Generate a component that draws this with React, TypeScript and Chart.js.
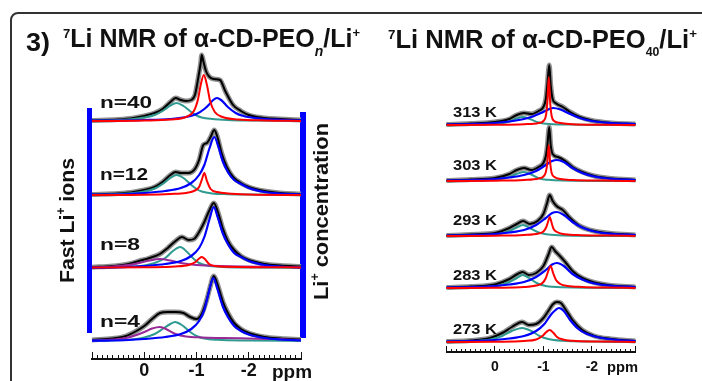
import { useEffect, useRef } from 'react';
import { Chart, registerables } from 'chart.js';

Chart.register(...registerables);

type Pt = [number, number];

// ---------------- axis / labels ----------------
const leftTickLabels = [0, -1, -2];
const rightTickLabels = [0, -1, -2];
const leftPpmRange: [number, number] = [1, -3];
const rightPpmRange: [number, number] = [1, -2.9];
const leftLabels = ['n=40', 'n=12', 'n=8', 'n=4'];
const rightLabels = ['313 K', '303 K', '293 K', '283 K', '273 K'];

// ---------------- left panel: α-CD-PEOn/Li+ (ppm, intensity) ----------------
const n40Black: Pt[] = [[1, 0.5], [0.5, 1.5], [0.2, 3], [0, 5], [-0.2, 8], [-0.35, 12], [-0.5, 19], [-0.6, 23], [-0.7, 21], [-0.8, 20], [-0.9, 21], [-0.97, 26], [-1.03, 42], [-1.08, 58], [-1.1, 66], [-1.13, 60], [-1.18, 50], [-1.25, 44], [-1.33, 42], [-1.45, 41], [-1.55, 30], [-1.7, 16], [-1.85, 10], [-2.0, 6], [-2.3, 3], [-2.6, 2], [-3, 1]];
const n40Teal: Pt[] = [[1, 0.3], [0.5, 1], [0.2, 2], [0, 3.5], [-0.2, 6], [-0.35, 10], [-0.5, 15.5], [-0.62, 18], [-0.75, 15], [-0.9, 9], [-1.0, 5.5], [-1.1, 3.5], [-1.3, 2], [-1.6, 1], [-2.0, 0.5], [-3, 0.2]];
const n40Red: Pt[] = [[1, 0], [0, 0.5], [-0.5, 1.5], [-0.8, 4], [-0.95, 10], [-1.03, 22], [-1.08, 36], [-1.14, 46], [-1.2, 36], [-1.26, 20], [-1.35, 9], [-1.5, 4], [-1.8, 1.5], [-2.3, 0.5], [-3, 0]];
const n40Blue: Pt[] = [[1, 0.3], [0, 1], [-0.5, 2], [-0.8, 4], [-1.0, 7], [-1.15, 12], [-1.25, 17], [-1.32, 21], [-1.39, 23], [-1.47, 21], [-1.6, 14], [-1.75, 8], [-1.9, 5], [-2.2, 2.5], [-2.6, 1.2], [-3, 0.6]];

const n12Black: Pt[] = [[1, 0.5], [0.5, 1.5], [0.2, 3], [0, 5], [-0.2, 8], [-0.35, 13], [-0.5, 20], [-0.6, 23], [-0.7, 22], [-0.85, 22], [-0.97, 26], [-1.05, 35], [-1.13, 50], [-1.2, 52], [-1.27, 58], [-1.34, 65], [-1.4, 58], [-1.48, 42], [-1.58, 28], [-1.7, 18], [-1.85, 12], [-2, 8], [-2.3, 4], [-2.6, 2], [-3, 1]];
const n12Teal: Pt[] = [[1, 0.3], [0.5, 1], [0.2, 2], [0, 3.5], [-0.2, 6.5], [-0.35, 11], [-0.5, 17], [-0.62, 20], [-0.75, 17], [-0.9, 10], [-1.0, 6], [-1.1, 3.5], [-1.3, 1.5], [-1.6, 0.8], [-2, 0.4], [-3, 0.2]];
const n12Red: Pt[] = [[1, 0], [0, 0.3], [-0.5, 1], [-0.8, 2], [-0.95, 4], [-1.05, 8], [-1.1, 15], [-1.15, 22], [-1.2, 14], [-1.27, 6], [-1.4, 3], [-1.6, 1.5], [-2, 0.5], [-3, 0]];
const n12Blue: Pt[] = [[1, 0.3], [0.3, 1], [0, 2], [-0.4, 4], [-0.7, 7], [-0.9, 12], [-1.05, 20], [-1.15, 30], [-1.25, 47], [-1.34, 58], [-1.42, 48], [-1.5, 34], [-1.6, 23], [-1.72, 15], [-1.85, 11], [-2.0, 7], [-2.3, 3], [-2.6, 1.5], [-3, 0.6]];

const n8Black: Pt[] = [[1, 0.8], [0.6, 2], [0.3, 4], [0.1, 7], [-0.1, 10], [-0.3, 14], [-0.45, 20], [-0.6, 27], [-0.72, 31], [-0.85, 28], [-0.95, 29], [-1.05, 36], [-1.15, 46], [-1.25, 58], [-1.33, 65], [-1.41, 56], [-1.5, 40], [-1.6, 27], [-1.72, 18], [-1.85, 12], [-2, 8], [-2.3, 4], [-2.6, 2.5], [-3, 1.5]];
const n8Teal: Pt[] = [[1, 0.2], [0.5, 0.8], [0.2, 1.5], [0, 2.5], [-0.2, 5], [-0.4, 10], [-0.55, 17], [-0.69, 21], [-0.82, 16], [-0.95, 9], [-1.05, 5], [-1.2, 2.5], [-1.5, 1], [-2, 0.4], [-3, 0.2]];
const n8Purple: Pt[] = [[1, 0.5], [0.6, 1.5], [0.3, 3], [0.1, 5], [-0.1, 7.5], [-0.3, 9], [-0.5, 7.5], [-0.7, 5], [-0.9, 3.5], [-1.2, 2.5], [-1.6, 1.8], [-2.2, 1.2], [-3, 0.8]];
const n8Red: Pt[] = [[1, 0.5], [0, 0.8], [-0.6, 1.5], [-0.85, 3], [-0.98, 6], [-1.05, 9.5], [-1.1, 11], [-1.16, 9], [-1.24, 4], [-1.35, 2], [-1.6, 1.2], [-2.2, 0.8], [-3, 0.6]];
const n8Blue: Pt[] = [[1, 0.3], [0.3, 1], [0, 2], [-0.4, 4], [-0.7, 7], [-0.9, 12], [-1.05, 20], [-1.15, 31], [-1.25, 49], [-1.33, 61], [-1.41, 50], [-1.5, 35], [-1.6, 24], [-1.72, 15], [-1.85, 11], [-2.0, 7], [-2.3, 3], [-2.6, 1.5], [-3, 0.6]];

const n4Black: Pt[] = [[1, 1], [0.6, 2.5], [0.35, 5], [0.15, 10], [0, 15], [-0.15, 22], [-0.3, 28], [-0.45, 29], [-0.6, 29], [-0.75, 28], [-0.88, 24], [-1.0, 22], [-1.1, 27], [-1.2, 42], [-1.27, 56], [-1.33, 65], [-1.4, 57], [-1.5, 40], [-1.6, 28], [-1.72, 18], [-1.85, 12], [-2, 8], [-2.3, 4], [-2.6, 2.5], [-3, 1.5]];
const n4Teal: Pt[] = [[1, 0.2], [0.5, 0.8], [0.2, 1.8], [0, 3.5], [-0.2, 7], [-0.38, 13], [-0.5, 17], [-0.59, 19], [-0.72, 16], [-0.88, 9], [-1.0, 5], [-1.15, 2.5], [-1.4, 1.2], [-2, 0.5], [-3, 0.2]];
const n4Purple: Pt[] = [[1, 0.5], [0.6, 1.5], [0.35, 3], [0.15, 6], [0, 9], [-0.15, 12.5], [-0.3, 14], [-0.45, 11], [-0.6, 7], [-0.8, 4.5], [-1.1, 3.5], [-1.5, 3], [-2.0, 2.5], [-2.5, 2], [-3, 1]];
const n4Blue: Pt[] = [[1, 0.3], [0.3, 1], [0, 2], [-0.4, 4], [-0.7, 7], [-0.9, 12], [-1.05, 20], [-1.15, 31], [-1.24, 50], [-1.32, 63], [-1.4, 52], [-1.5, 35], [-1.6, 24], [-1.72, 15], [-1.85, 10], [-2.0, 6.5], [-2.3, 3], [-2.6, 1.5], [-3, 0.6]];

// ---------------- right panel: α-CD-PEO40/Li+ vs temperature ----------------
const k313Black: Pt[] = [[1, 0.5], [0.5, 1.5], [0, 3], [-0.3, 6], [-0.45, 10], [-0.6, 12], [-0.75, 11], [-0.9, 14], [-1.0, 18], [-1.05, 26], [-1.08, 40], [-1.12, 60], [-1.15, 40], [-1.19, 26], [-1.25, 22], [-1.4, 18], [-1.55, 13], [-1.75, 8], [-2, 4.5], [-2.4, 2], [-2.9, 1]];
const k313Teal: Pt[] = [[1, 0], [0.2, 0.6], [-0.1, 1.5], [-0.3, 3.5], [-0.45, 6.5], [-0.58, 8], [-0.72, 6], [-0.9, 2.5], [-1.05, 1.2], [-1.5, 0.4], [-2.9, 0]];
const k313Red: Pt[] = [[1, 0], [0, 0.2], [-0.6, 0.8], [-0.9, 2], [-1.0, 4], [-1.05, 9], [-1.08, 22], [-1.11, 48], [-1.14, 22], [-1.17, 9], [-1.22, 4], [-1.35, 2], [-1.6, 0.8], [-2.2, 0.3], [-2.9, 0]];
const k313Blue: Pt[] = [[1, 0.5], [0.5, 1], [0, 2], [-0.3, 3.5], [-0.55, 5.5], [-0.75, 8], [-0.95, 12], [-1.1, 15.5], [-1.2, 17], [-1.35, 15.5], [-1.55, 11], [-1.75, 7], [-2.0, 4], [-2.4, 2], [-2.9, 1]];

const k303Black: Pt[] = [[1, 0.5], [0.5, 1.5], [0, 3], [-0.3, 7], [-0.45, 11], [-0.6, 13], [-0.75, 11], [-0.9, 14], [-1.0, 18], [-1.05, 25], [-1.08, 35], [-1.12, 54], [-1.15, 36], [-1.19, 27], [-1.3, 24], [-1.45, 20], [-1.6, 14], [-1.8, 9], [-2.05, 5], [-2.4, 2.5], [-2.9, 1]];
const k303Teal: Pt[] = [[1, 0], [0.2, 0.7], [-0.1, 1.8], [-0.3, 4], [-0.45, 7], [-0.6, 9], [-0.75, 6.5], [-0.92, 2.5], [-1.1, 1.2], [-1.4, 0.5], [-2.9, 0]];
const k303Red: Pt[] = [[1, 0], [0, 0.3], [-0.6, 1], [-0.9, 2.5], [-1.0, 4.5], [-1.05, 9], [-1.08, 18], [-1.11, 36], [-1.14, 18], [-1.17, 8], [-1.23, 4], [-1.35, 2], [-1.6, 1], [-2.2, 0.4], [-2.9, 0]];
const k303Blue: Pt[] = [[1, 0.5], [0.5, 1], [0, 2], [-0.3, 3.5], [-0.6, 6], [-0.85, 10], [-1.05, 16], [-1.18, 20], [-1.28, 21], [-1.42, 19], [-1.6, 13], [-1.8, 8], [-2.05, 4.5], [-2.4, 2.2], [-2.9, 1]];

const k293Black: Pt[] = [[1, 0.5], [0.5, 1.5], [0, 3], [-0.3, 8], [-0.45, 12], [-0.58, 15], [-0.72, 12], [-0.88, 15], [-1.0, 22], [-1.07, 32], [-1.13, 41], [-1.19, 35], [-1.27, 30], [-1.4, 26], [-1.55, 18], [-1.75, 10], [-2.0, 5.5], [-2.4, 2.5], [-2.9, 1]];
const k293Teal: Pt[] = [[1, 0], [0.2, 0.8], [-0.1, 2], [-0.3, 5], [-0.45, 8.5], [-0.58, 11], [-0.72, 8], [-0.9, 3.5], [-1.1, 1.5], [-1.4, 0.6], [-2.9, 0]];
const k293Red: Pt[] = [[1, 0], [0, 0.3], [-0.6, 1], [-0.9, 2.5], [-1.0, 4.5], [-1.06, 9], [-1.1, 15], [-1.13, 19], [-1.17, 13], [-1.21, 7], [-1.28, 4], [-1.4, 2], [-1.7, 1], [-2.3, 0.4], [-2.9, 0]];
const k293Blue: Pt[] = [[1, 0.5], [0.5, 1], [0, 2], [-0.3, 3.5], [-0.6, 6], [-0.85, 11], [-1.05, 18], [-1.18, 23], [-1.28, 24], [-1.42, 21], [-1.6, 14], [-1.8, 8.5], [-2.05, 4.5], [-2.4, 2.2], [-2.9, 1]];

const k283Black: Pt[] = [[1, 0.5], [0.5, 1.5], [0, 3.5], [-0.3, 9], [-0.45, 13.5], [-0.57, 16], [-0.7, 13], [-0.85, 15], [-1.0, 22], [-1.1, 33], [-1.17, 41], [-1.24, 37], [-1.32, 33], [-1.45, 26], [-1.6, 17], [-1.8, 10], [-2.05, 5.5], [-2.4, 2.5], [-2.9, 1]];
const k283Teal: Pt[] = [[1, 0], [0.2, 1], [-0.1, 2.5], [-0.3, 6], [-0.45, 10], [-0.57, 13], [-0.7, 10], [-0.88, 4.5], [-1.05, 2], [-1.4, 0.7], [-2.9, 0]];
const k283Red: Pt[] = [[1, 0], [0, 0.3], [-0.6, 1], [-0.85, 2.5], [-0.98, 5], [-1.05, 10], [-1.1, 17], [-1.15, 22], [-1.2, 15], [-1.26, 8], [-1.35, 4], [-1.5, 2], [-1.8, 1], [-2.3, 0.4], [-2.9, 0]];
const k283Blue: Pt[] = [[1, 0.5], [0.5, 1], [0, 2], [-0.3, 3.5], [-0.6, 6], [-0.85, 11], [-1.05, 18], [-1.18, 23.5], [-1.28, 25], [-1.42, 22], [-1.6, 14], [-1.8, 8.5], [-2.05, 4.5], [-2.4, 2.2], [-2.9, 1]];

const k273Black: Pt[] = [[1, 0.5], [0.5, 1.5], [0.1, 4], [-0.15, 9], [-0.35, 15], [-0.56, 20], [-0.7, 17], [-0.85, 18], [-1.0, 24], [-1.1, 31], [-1.2, 38], [-1.28, 40], [-1.36, 39], [-1.45, 33], [-1.6, 22], [-1.8, 12], [-2.05, 6], [-2.4, 3], [-2.9, 1]];
const k273Teal: Pt[] = [[1, 0.3], [0.4, 1], [0.1, 2.5], [-0.15, 6], [-0.35, 11], [-0.56, 14], [-0.75, 11], [-0.92, 6], [-1.1, 3], [-1.4, 1.2], [-2, 0.4], [-2.9, 0]];
const k273Red: Pt[] = [[1, 0], [0, 0.3], [-0.6, 1], [-0.85, 2.5], [-0.98, 6], [-1.06, 10], [-1.13, 12], [-1.2, 9.5], [-1.28, 5], [-1.4, 2.5], [-1.6, 1.2], [-2.1, 0.5], [-2.9, 0]];
const k273Blue: Pt[] = [[1, 0.5], [0.5, 1], [0, 2], [-0.3, 3.5], [-0.6, 6], [-0.85, 11], [-1.02, 18], [-1.15, 27], [-1.25, 32], [-1.32, 34], [-1.42, 31], [-1.55, 22], [-1.72, 13], [-1.9, 8], [-2.15, 4.5], [-2.5, 2.2], [-2.9, 1]];

type Spectrum = { black: Pt[]; teal: Pt[]; red?: Pt[]; blue: Pt[]; purple?: Pt[] };

const leftSpectra: Spectrum[] = [
  { black: n40Black, teal: n40Teal, red: n40Red, blue: n40Blue },
  { black: n12Black, teal: n12Teal, red: n12Red, blue: n12Blue },
  { black: n8Black, teal: n8Teal, purple: n8Purple, red: n8Red, blue: n8Blue },
  { black: n4Black, teal: n4Teal, purple: n4Purple, blue: n4Blue },
];
const rightSpectra: Spectrum[] = [
  { black: k313Black, teal: k313Teal, red: k313Red, blue: k313Blue },
  { black: k303Black, teal: k303Teal, red: k303Red, blue: k303Blue },
  { black: k293Black, teal: k293Teal, red: k293Red, blue: k293Blue },
  { black: k283Black, teal: k283Teal, red: k283Red, blue: k283Blue },
  { black: k273Black, teal: k273Teal, red: k273Red, blue: k273Blue },
];

// ---------------- layout (pixels) ----------------
const W = 702;
const H = 381;
const L_X = [92, 301];
const R_X = [446.5, 635.5];
const L_BASE = [121, 195, 268, 341];
const R_BASE = [125, 181, 236, 288, 342];
const L_AXIS_Y = 359;
const R_AXIS_Y = 352;
const FONT = "'Liberation Sans', Arial, Helvetica, sans-serif";

const COLORS = {
  black: '#000000',
  halo: '#8e8e8e',
  teal: '#2E9A90',
  purple: '#982A98',
  blue: '#0000FF',
  red: '#FF0000',
  frame: '#333333',
  bar: '#0000FF',
};

type Seg = { t: string; font: string; dy: number };

function drawRich(ctx: CanvasRenderingContext2D, segs: Seg[], x: number, y: number, width: number, angle = 0) {
  ctx.save();
  let total = 0;
  const ws = segs.map((s) => {
    ctx.font = s.font;
    const w = ctx.measureText(s.t).width;
    total += w;
    return w;
  });
  ctx.translate(x, y);
  ctx.rotate(angle);
  ctx.scale(width / total, 1);
  ctx.textBaseline = 'alphabetic';
  ctx.textAlign = 'left';
  ctx.fillStyle = '#111111';
  let cx = 0;
  segs.forEach((s, i) => {
    ctx.font = s.font;
    ctx.fillText(s.t, cx, s.dy);
    cx += ws[i];
  });
  ctx.restore();
}

const b = (px: number) => `bold ${px}px ${FONT}`;

const placementPlugin = {
  id: 'placement',
  afterLayout(chart: any) {
    const place = (id: string, l: number, r: number, t: number, bt: number) => {
      const s = chart.scales[id];
      if (!s) return;
      s.left = l;
      s.right = r;
      s.top = t;
      s.bottom = bt;
      s.width = r - l;
      s.height = bt - t;
      s.configure();
    };
    place('xL', L_X[0], L_X[1], L_AXIS_Y, H);
    place('xLM', L_X[0], L_X[1], L_AXIS_Y, H);
    place('xR', R_X[0], R_X[1], R_AXIS_Y, H);
    place('xRM', R_X[0], R_X[1], R_AXIS_Y, H);
    L_BASE.forEach((y, i) => place('yL' + i, 0, 0, y - 100, y));
    R_BASE.forEach((y, i) => place('yR' + i, 0, 0, y - 100, y));
  },
};

const decorPlugin = {
  id: 'decor',
  beforeDatasetsDraw(chart: any) {
    const ctx: CanvasRenderingContext2D = chart.ctx;
    ctx.save();
    // frame
    ctx.strokeStyle = COLORS.frame;
    ctx.lineWidth = 2;
    ctx.beginPath();
    ctx.moveTo(W, 13);
    ctx.lineTo(18, 13);
    ctx.arcTo(11, 13, 11, 20, 7);
    ctx.lineTo(11, H);
    ctx.stroke();
    // blue bars
    ctx.fillStyle = COLORS.bar;
    ctx.fillRect(87, 108, 5, 225);
    ctx.fillRect(300, 112, 6, 226);
    ctx.restore();
  },
  afterDraw(chart: any) {
    const ctx: CanvasRenderingContext2D = chart.ctx;
    // panel number
    drawRich(ctx, [{ t: '3)', font: b(26), dy: 0 }], 26, 51, 24);
    // left title
    drawRich(
      ctx,
      [
        { t: '7', font: b(13), dy: -9 },
        { t: 'Li NMR of \u03b1-CD-PEO', font: b(25), dy: 0 },
        { t: 'n', font: `italic bold 14px ${FONT}`, dy: 9 },
        { t: '/Li', font: b(25), dy: 0 },
        { t: '+', font: b(13), dy: -10 },
      ],
      63, 47, 297,
    );
    // right title
    drawRich(
      ctx,
      [
        { t: '7', font: b(13), dy: -9 },
        { t: 'Li NMR of \u03b1-CD-PEO', font: b(25), dy: 0 },
        { t: '40', font: b(12), dy: 7.5 },
        { t: '/Li', font: b(25), dy: 0 },
        { t: '+', font: b(13), dy: -10 },
      ],
      388, 48, 309,
    );
    // n labels
    const lBase = [108, 180, 250, 327];
    const lW = [52, 48, 40, 40];
    leftLabels.forEach((t, i) => drawRich(ctx, [{ t, font: b(17), dy: 0 }], 100, lBase[i], lW[i]));
    // K labels
    const rBase = [117, 170, 225, 280, 334];
    rightLabels.forEach((t, i) => drawRich(ctx, [{ t, font: b(14), dy: 0 }], 453, rBase[i], 44));
    // ppm
    drawRich(ctx, [{ t: 'ppm', font: b(18), dy: 0 }], 272, 377.5, 40);
    drawRich(ctx, [{ t: 'ppm', font: b(14), dy: 0 }], 607, 372, 31);
    // rotated texts
    drawRich(
      ctx,
      [
        { t: 'Fast Li', font: b(21), dy: 0 },
        { t: '+', font: b(12), dy: -9 },
        { t: ' ions', font: b(21), dy: 0 },
      ],
      74, 283, 125, -Math.PI / 2,
    );
    drawRich(
      ctx,
      [
        { t: 'Li', font: b(21), dy: 0 },
        { t: '+', font: b(12), dy: -9 },
        { t: ' concentration', font: b(21), dy: 0 },
      ],
      328, 300, 177, -Math.PI / 2,
    );
  },
};

function line(data: Pt[], color: string, width: number, xAxisID: string, yAxisID: string) {
  return {
    data: data.map(([x, y]) => ({ x, y })),
    borderColor: color,
    backgroundColor: color,
    borderWidth: width,
    pointRadius: 0,
    fill: false,
    cubicInterpolationMode: 'monotone',
    capBezierPoints: false,
    clip: false,
    xAxisID,
    yAxisID,
  };
}

function buildDatasets() {
  const bottomFirst: any[] = [];
  const add = (spectra: Spectrum[], xId: string, yPrefix: string) => {
    spectra.forEach((s, i) => {
      const yId = yPrefix + i;
      bottomFirst.push(line(s.black, COLORS.halo, 5, xId, yId));
      bottomFirst.push(line(s.black, COLORS.black, 2, xId, yId));
      bottomFirst.push(line(s.teal, COLORS.teal, 2, xId, yId));
      if (s.purple) bottomFirst.push(line(s.purple, COLORS.purple, 2, xId, yId));
      bottomFirst.push(line(s.blue, COLORS.blue, 2.2, xId, yId));
      if (s.red) bottomFirst.push(line(s.red, COLORS.red, 2, xId, yId));
    });
  };
  add(leftSpectra, 'xL', 'yL');
  add(rightSpectra, 'xR', 'yR');
  return bottomFirst.reverse();
}

function xScale(range: [number, number], step: number, tickLen: number, labels: number[] | null, fontSize: number, padding: number) {
  return {
    type: 'linear',
    position: 'bottom',
    display: true,
    min: range[1],
    max: range[0],
    reverse: true,
    grid: { display: true, drawOnChartArea: false, drawTicks: true, tickLength: -tickLen, tickColor: '#111', tickWidth: 1 },
    border: { display: true, color: '#111', width: 2 },
    ticks: {
      display: labels !== null,
      autoSkip: false,
      maxRotation: 0,
      minRotation: 0,
      stepSize: step,
      padding,
      color: '#111',
      font: { family: FONT, size: fontSize, weight: 'bold' },
      callback: (v: number) => (labels && labels.includes(v) ? String(v) : ''),
    },
  };
}

export default function App() {
  const ref = useRef<HTMLCanvasElement>(null);
  useEffect(() => {
    if (!ref.current) return;
    const scales: any = {
      xL: xScale(leftPpmRange, 0.1, 4, null, 18, 0),
      xLM: xScale(leftPpmRange, 1, 7, leftTickLabels, 18, 8.7),
      xR: xScale(rightPpmRange, 0.1, 3, null, 14, 0),
      xRM: xScale(rightPpmRange, 1, 6, rightTickLabels, 14, 12.3),
    };
    L_BASE.forEach((_, i) => (scales['yL' + i] = { type: 'linear', display: false, min: 0, max: 100 }));
    R_BASE.forEach((_, i) => (scales['yR' + i] = { type: 'linear', display: false, min: 0, max: 100 }));
    const chart = new Chart(ref.current, {
      type: 'line',
      data: { datasets: buildDatasets() },
      options: {
        responsive: false,
        animation: false,
        events: [],
        parsing: true,
        plugins: { legend: { display: false }, tooltip: { enabled: false } },
        scales,
      } as any,
      plugins: [placementPlugin, decorPlugin],
    } as any);
    return () => chart.destroy();
  }, []);
  return (
    <div style={{ position: 'fixed', left: 0, top: 0, width: W, height: H, background: '#fff' }}>
      <canvas ref={ref} width={W} height={H} style={{ display: 'block', width: W, height: H }} />
    </div>
  );
}
